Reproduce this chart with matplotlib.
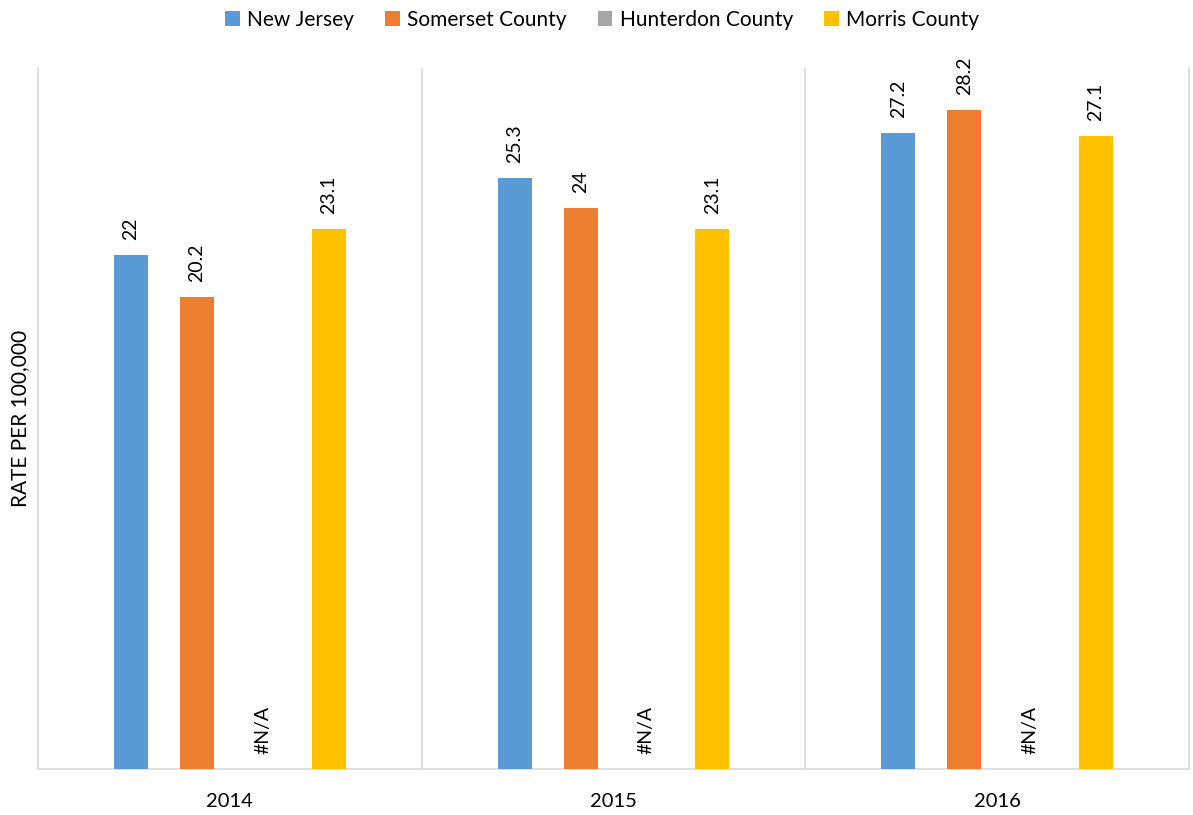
import matplotlib
matplotlib.use('Agg')
import numpy as np
import matplotlib.pyplot as plt

plt.rcParams['font.family'] = ['Lato', 'DejaVu Sans']

years = ['2014', '2015', '2016']
series = ['New Jersey', 'Somerset County', 'Hunterdon County', 'Morris County']
new_jersey = [22, 25.3, 27.2]
somerset = [20.2, 24, 28.2]
hunterdon = [np.nan, np.nan, np.nan]
morris = [23.1, 23.1, 27.1]
colors = ['#5B9BD5', '#ED7D31', '#A5A5A5', '#FFC000']

fig = plt.figure(figsize=(11.93, 8.15), dpi=100)
ax = fig.add_axes([0.0319, 0.0564, 0.9647, 0.8602])

x = np.arange(len(years))
width = 0.0885
step = 0.1716
all_vals = [new_jersey, somerset, hunterdon, morris]

for i, (name, vals, c) in enumerate(zip(series, all_vals, colors)):
    pos = x + (i - 1.5) * step
    h = np.nan_to_num(np.array(vals, dtype=float), nan=0.0)
    ax.bar(pos, h, width, color=c, label=name, zorder=3)
    for p, v in zip(pos, vals):
        if np.isnan(v):
            ax.text(p, 0.65, '#N/A', rotation=90, ha='center', va='bottom', fontsize=14)
        else:
            ax.text(p, v + 0.65, f'{v:g}', rotation=90, ha='center', va='bottom', fontsize=14)

ax.set_xlim(-0.5, 2.5)
ax.set_ylim(0, 30)
ax.set_yticks([])
ax.set_xticks(x)
ax.set_xticklabels(years, fontsize=14.5)
ax.tick_params(axis='x', length=0, pad=17)
for sep in [0.5, 1.5]:
    ax.axvline(sep, color='#D9D9D9', lw=1.2, zorder=1)
for s in ['left', 'right', 'bottom']:
    ax.spines[s].set_color('#D9D9D9')
    ax.spines[s].set_linewidth(1.2)
ax.spines['top'].set_visible(False)

ax.set_ylabel('RATE PER 100,000', fontsize=15, labelpad=6)

ax.legend(loc='upper center', bbox_to_anchor=(0.49, 1.11), ncol=4, frameon=False,
          fontsize=15, handlelength=0.7, handleheight=0.7, handletextpad=0.35,
          columnspacing=1.5)

fig.savefig('out.png', dpi=100)
